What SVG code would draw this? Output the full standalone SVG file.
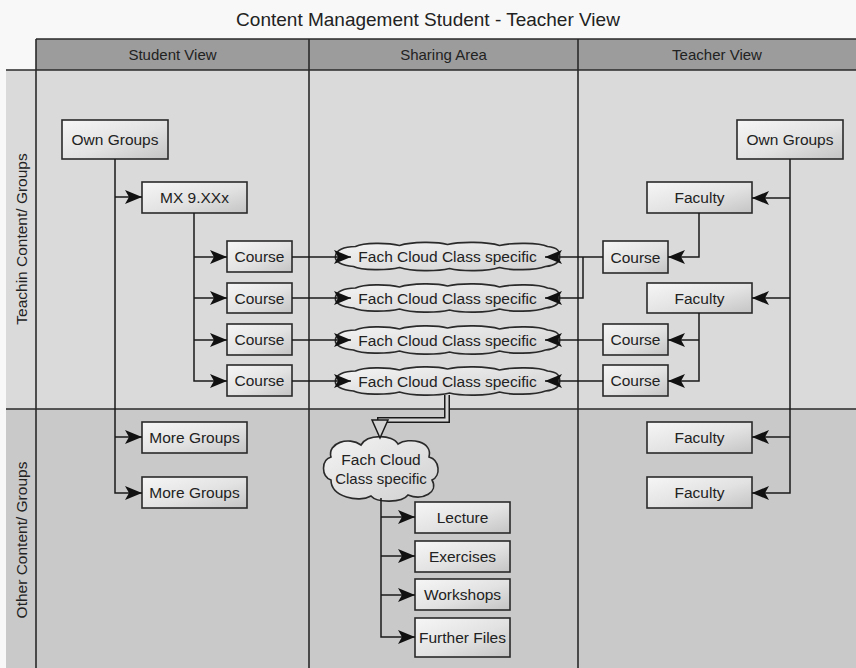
<svg xmlns="http://www.w3.org/2000/svg" xmlns:xlink="http://www.w3.org/1999/xlink" width="856" height="668" viewBox="0 0 856 668">
  <style>
    text { font-family: "Liberation Sans", Arial, sans-serif; fill: #222; }
    .title { font-size: 19px; text-anchor: middle; }
    .head { font-size: 15px; text-anchor: middle; }
    .lane { font-size: 15.5px; text-anchor: middle; }
    .lbl { font-size: 15.5px; text-anchor: middle; }
    .box { fill: url(#boxFill); stroke: #2a2a2a; stroke-width: 1.6; }
    .cloud { fill: url(#cloudFill); stroke: #2a2a2a; stroke-width: 1.6; }
    .grid { stroke: #2a2a2a; stroke-width: 1.6; fill: none; }
    .link { stroke: #1a1a1a; stroke-width: 1.5; fill: none; }
    .arrow { marker-end: url(#stealth); }
  </style>
  <defs>
    <linearGradient id="boxFill" x1="0" y1="0" x2="1" y2="1">
      <stop offset="0" stop-color="#f6f6f6"/>
      <stop offset="0.55" stop-color="#e2e2e2"/>
      <stop offset="1" stop-color="#c4c4c4"/>
    </linearGradient>
    <linearGradient id="cloudFill" x1="0" y1="0" x2="1" y2="1">
      <stop offset="0" stop-color="#f4f4f4"/>
      <stop offset="1" stop-color="#d0d0d0"/>
    </linearGradient>
    <marker id="stealth" markerUnits="userSpaceOnUse" markerWidth="20" markerHeight="16" refX="17" refY="7" orient="auto">
      <path d="M0,0 L17,7 L0,14 L4,7 Z" fill="#111"/>
    </marker>
    <!-- flat cloud used for the shared class areas -->
    <path id="cloudWide" d="M -112,0 C -112,-6 -104,-10 -92,-10 C -84,-14 -60,-14 -48,-11 C -36,-15 -10,-15 0,-12 C 12,-15 40,-15 52,-11 C 64,-14 92,-14 100,-10 C 110,-9 113,-5 112,0 C 113,5 108,9 98,10 C 88,14 62,14 52,11 C 40,15 14,15 2,12 C -10,15 -36,15 -48,11 C -60,14 -86,14 -94,10 C -106,9 -113,5 -112,0 Z"/>
  </defs>

  <!-- page background -->
  <rect x="0" y="0" width="856" height="668" fill="#f8f8f8"/>

  <!-- title -->
  <text class="title" x="428" y="26">Content Management Student - Teacher View</text>

  <!-- lanes -->
  <g id="pool">
    <rect x="36" y="39" width="820" height="31" fill="#9c9c9c"/>
    <rect x="6" y="70" width="850" height="339" fill="#dadada"/>
    <rect x="6" y="409" width="850" height="259" fill="#c9c9c9"/>
    <path class="grid" d="M36,39 H856 M6,70 H856 M6,409 H856 M36,39 V668 M309,39 V668 M578,39 V668"/>
    <text class="head" x="172.5" y="60">Student View</text>
    <text class="head" x="443.5" y="60">Sharing Area</text>
    <text class="head" x="717" y="60">Teacher View</text>
    <text class="lane" transform="translate(27,239) rotate(-90)">Teachin Content/ Groups</text>
    <text class="lane" transform="translate(27,540) rotate(-90)">Other Content/ Groups</text>
  </g>

  <!-- student view nodes -->
  <g id="s-own"><rect class="box" x="62" y="120" width="106" height="39"/><text class="lbl" x="115" y="145">Own Groups</text></g>
  <g id="s-mx"><rect class="box" x="142" y="182" width="105" height="31"/><text class="lbl" x="194.5" y="203">MX 9.XXx</text></g>
  <g id="s-course1"><rect class="box" x="227" y="241" width="65" height="31"/><text class="lbl" x="259.5" y="262">Course</text></g>
  <g id="s-course2"><rect class="box" x="227" y="283" width="65" height="30"/><text class="lbl" x="259.5" y="303.5">Course</text></g>
  <g id="s-course3"><rect class="box" x="227" y="324" width="65" height="31"/><text class="lbl" x="259.5" y="345">Course</text></g>
  <g id="s-course4"><rect class="box" x="227" y="365" width="65" height="31"/><text class="lbl" x="259.5" y="386">Course</text></g>
  <g id="s-more1"><rect class="box" x="142" y="422" width="105" height="31"/><text class="lbl" x="194.5" y="443">More Groups</text></g>
  <g id="s-more2"><rect class="box" x="142" y="477" width="105" height="31"/><text class="lbl" x="194.5" y="498">More Groups</text></g>

  <!-- sharing area nodes -->
  <g id="cloud1"><use xlink:href="#cloudWide" class="cloud" transform="translate(447.5,256.5)"/><text class="lbl" x="447.5" y="262">Fach Cloud Class specific</text></g>
  <g id="cloud2"><use xlink:href="#cloudWide" class="cloud" transform="translate(447.5,298)"/><text class="lbl" x="447.5" y="303.5">Fach Cloud Class specific</text></g>
  <g id="cloud3"><use xlink:href="#cloudWide" class="cloud" transform="translate(447.5,340)"/><text class="lbl" x="447.5" y="345.5">Fach Cloud Class specific</text></g>
  <g id="cloud4"><use xlink:href="#cloudWide" class="cloud" transform="translate(447.5,381)"/><text class="lbl" x="447.5" y="386.5">Fach Cloud Class specific</text></g>
  <g id="cloud-detail">
    <path class="cloud" transform="translate(381,468)" d="M -50,12 C -60,8 -60,-8 -50,-11 C -54,-25 -32,-32 -20,-23 C -14,-34 12,-34 17,-24 C 28,-31 52,-27 48,-11 C 59,-8 60,8 51,12 C 58,24 42,33 27,27 C 21,35 -4,35 -10,28 C -22,35 -50,29 -50,12 Z"/>
    <text class="lbl" x="381" y="465">Fach Cloud</text>
    <text class="lbl" x="381" y="484" style="font-size:15px">Class specific</text>
  </g>
  <g id="lecture"><rect class="box" x="415" y="502" width="95" height="31"/><text class="lbl" x="462.5" y="523">Lecture</text></g>
  <g id="exercises"><rect class="box" x="415" y="541" width="95" height="31"/><text class="lbl" x="462.5" y="562">Exercises</text></g>
  <g id="workshops"><rect class="box" x="415" y="579" width="95" height="31"/><text class="lbl" x="462.5" y="600">Workshops</text></g>
  <g id="further-files"><rect class="box" x="415" y="618" width="95" height="39"/><text class="lbl" x="462.5" y="643">Further Files</text></g>

  <!-- teacher view nodes -->
  <g id="t-own"><rect class="box" x="737" y="120" width="106" height="39"/><text class="lbl" x="790" y="145">Own Groups</text></g>
  <g id="t-faculty1"><rect class="box" x="647" y="182" width="105" height="31"/><text class="lbl" x="699.5" y="203">Faculty</text></g>
  <g id="t-course1"><rect class="box" x="603" y="241" width="65" height="32"/><text class="lbl" x="635.5" y="262.5">Course</text></g>
  <g id="t-faculty2"><rect class="box" x="647" y="283" width="105" height="30"/><text class="lbl" x="699.5" y="303.5">Faculty</text></g>
  <g id="t-course2"><rect class="box" x="603" y="324" width="65" height="31"/><text class="lbl" x="635.5" y="345">Course</text></g>
  <g id="t-course3"><rect class="box" x="603" y="365" width="65" height="31"/><text class="lbl" x="635.5" y="386">Course</text></g>
  <g id="t-faculty3"><rect class="box" x="647" y="422" width="105" height="31"/><text class="lbl" x="699.5" y="443">Faculty</text></g>
  <g id="t-faculty4"><rect class="box" x="647" y="477" width="105" height="31"/><text class="lbl" x="699.5" y="498">Faculty</text></g>

  <!-- connectors, drawn on top so arrowheads overlap the cloud outlines -->
  <g id="connectors">
    <!-- student side -->
    <path class="link arrow" d="M115,159 V493 H142"/>
    <path class="link arrow" d="M115,197 H142"/>
    <path class="link arrow" d="M115,437 H142"/>
    <path class="link arrow" d="M194,213 V381 H227"/>
    <path class="link arrow" d="M194,257 H227"/>
    <path class="link arrow" d="M194,298 H227"/>
    <path class="link arrow" d="M194,340 H227"/>
    <path class="link arrow" d="M292,257 H351"/>
    <path class="link arrow" d="M292,298 H351"/>
    <path class="link arrow" d="M292,340 H351"/>
    <path class="link arrow" d="M292,381 H351"/>
    <!-- teacher side -->
    <path class="link arrow" d="M790,159 V493 H752"/>
    <path class="link arrow" d="M790,198 H752"/>
    <path class="link arrow" d="M790,298 H752"/>
    <path class="link arrow" d="M790,437 H752"/>
    <path class="link arrow" d="M699,213 V257 H668"/>
    <path class="link arrow" d="M699,313 V381 H668"/>
    <path class="link arrow" d="M699,340 H668"/>
    <path class="link arrow" d="M603,257 H545"/>
    <path class="link arrow" d="M583,257 V298 H545"/>
    <path class="link arrow" d="M603,340 H545"/>
    <path class="link arrow" d="M603,381 H545"/>
    <!-- hollow link from the shared area down to the detail cloud -->
    <path d="M447,395 V420 H380 V421" fill="none" stroke="#1a1a1a" stroke-width="6"/>
    <path d="M447,395 V420 H380 V423" fill="none" stroke="#d8d8d8" stroke-width="3"/>
    <path d="M372,420 L388,420 L380,438 Z" fill="#d4d4d4" stroke="#1a1a1a" stroke-width="1.5"/>
    <!-- detail cloud to its files -->
    <path class="link arrow" d="M381,498 V637 H415"/>
    <path class="link arrow" d="M381,517 H415"/>
    <path class="link arrow" d="M381,556 H415"/>
    <path class="link arrow" d="M381,595 H415"/>
  </g>
</svg>
